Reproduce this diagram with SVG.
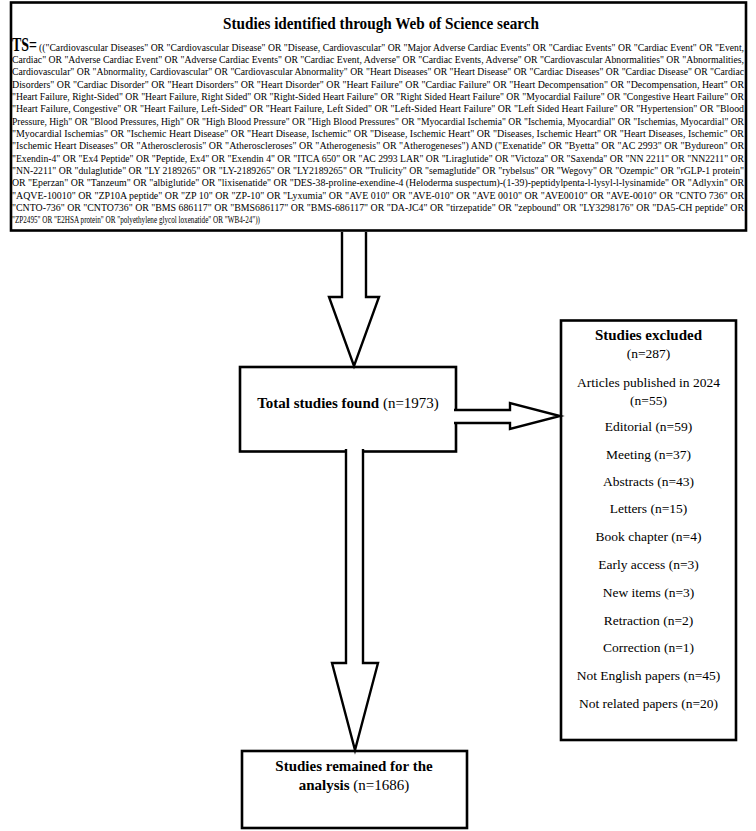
<svg xmlns="http://www.w3.org/2000/svg" width="756" height="831" viewBox="0 0 756 831">
<style>
.box{fill:#fff;stroke:#000;stroke-width:2.6}
.arr{fill:#fff;stroke:#000;stroke-width:2.4;stroke-linejoin:miter}
.t{font-family:"Liberation Serif","Times New Roman",serif;fill:#000}
.b{font-weight:bold}
.q{font-size:9.5px}
.m{font-size:13.5px;text-anchor:middle}
.h{font-size:15px;font-weight:bold}
</style>
<rect x="0" y="0" width="756" height="831" fill="#fff"/>
<g id="node-search">
<rect class="box" x="11" y="2.5" width="735" height="228"/>
<text class="t b" x="223" y="28.5" font-size="16.5" textLength="316" lengthAdjust="spacingAndGlyphs">Studies identified through Web of Science search</text>
<text class="t b" x="12" y="50.5" font-size="18" textLength="25" lengthAdjust="spacingAndGlyphs">TS=</text>
<g class="t q">
<text x="39" y="50.5" textLength="705" lengthAdjust="spacingAndGlyphs">(("Cardiovascular Diseases" OR "Cardiovascular Disease" OR "Disease, Cardiovascular" OR "Major Adverse Cardiac Events" OR "Cardiac Events" OR "Cardiac Event" OR "Event,</text>
<text x="12" y="62.85" textLength="732" lengthAdjust="spacingAndGlyphs">Cardiac" OR "Adverse Cardiac Event" OR "Adverse Cardiac Events" OR "Cardiac Event, Adverse" OR "Cardiac Events, Adverse" OR "Cardiovascular Abnormalities" OR "Abnormalities,</text>
<text x="12" y="75.2" textLength="732" lengthAdjust="spacingAndGlyphs">Cardiovascular" OR "Abnormality, Cardiovascular" OR "Cardiovascular Abnormality" OR "Heart Diseases" OR "Heart Disease" OR "Cardiac Diseases" OR "Cardiac Disease" OR "Cardiac</text>
<text x="12" y="87.55" textLength="732" lengthAdjust="spacingAndGlyphs">Disorders" OR "Cardiac Disorder" OR "Heart Disorders" OR "Heart Disorder" OR "Heart Failure" OR "Cardiac Failure" OR "Heart Decompensation" OR "Decompensation, Heart" OR</text>
<text x="12" y="99.9" textLength="732" lengthAdjust="spacingAndGlyphs">"Heart Failure, Right-Sided" OR "Heart Failure, Right Sided" OR "Right-Sided Heart Failure" OR "Right Sided Heart Failure" OR "Myocardial Failure" OR "Congestive Heart Failure" OR</text>
<text x="12" y="112.25" textLength="732" lengthAdjust="spacingAndGlyphs">"Heart Failure, Congestive" OR "Heart Failure, Left-Sided" OR "Heart Failure, Left Sided" OR "Left-Sided Heart Failure" OR "Left Sided Heart Failure" OR "Hypertension" OR "Blood</text>
<text x="12" y="124.6" textLength="732" lengthAdjust="spacingAndGlyphs">Pressure, High" OR "Blood Pressures, High" OR "High Blood Pressure" OR "High Blood Pressures" OR "Myocardial Ischemia" OR "Ischemia, Myocardial" OR "Ischemias, Myocardial" OR</text>
<text x="12" y="136.95" textLength="732" lengthAdjust="spacingAndGlyphs">"Myocardial Ischemias" OR "Ischemic Heart Disease" OR "Heart Disease, Ischemic" OR "Disease, Ischemic Heart" OR "Diseases, Ischemic Heart" OR "Heart Diseases, Ischemic" OR</text>
<text x="12" y="149.3" textLength="732" lengthAdjust="spacingAndGlyphs">"Ischemic Heart Diseases" OR "Atherosclerosis" OR "Atheroscleroses" OR "Atherogenesis" OR "Atherogeneses") AND ("Exenatide" OR "Byetta" OR "AC 2993" OR "Bydureon" OR</text>
<text x="12" y="161.65" textLength="732" lengthAdjust="spacingAndGlyphs">"Exendin-4" OR "Ex4 Peptide" OR "Peptide, Ex4" OR "Exendin 4" OR "ITCA 650" OR "AC 2993 LAR" OR "Liraglutide" OR "Victoza" OR "Saxenda" OR "NN 2211" OR "NN2211" OR</text>
<text x="12" y="174" textLength="732" lengthAdjust="spacingAndGlyphs">"NN-2211" OR "dulaglutide" OR "LY 2189265" OR "LY-2189265" OR "LY2189265" OR "Trulicity" OR "semaglutide" OR "rybelsus" OR "Wegovy" OR "Ozempic" OR "rGLP-1 protein"</text>
<text x="12" y="186.35" textLength="732" lengthAdjust="spacingAndGlyphs">OR "Eperzan" OR "Tanzeum" OR "albiglutide" OR "lixisenatide" OR "DES-38-proline-exendine-4 (Heloderma suspectum)-(1-39)-peptidylpenta-l-lysyl-l-lysinamide" OR "Adlyxin" OR</text>
<text x="12" y="198.7" textLength="732" lengthAdjust="spacingAndGlyphs">"AQVE-10010" OR "ZP10A peptide" OR "ZP 10" OR "ZP-10" OR "Lyxumia" OR "AVE 010" OR "AVE-010" OR "AVE 0010" OR "AVE0010" OR "AVE-0010" OR "CNTO 736" OR</text>
<text x="12" y="211.05" textLength="732" lengthAdjust="spacingAndGlyphs">"CNTO-736" OR "CNTO736" OR "BMS 686117" OR "BMS686117" OR "BMS-686117" OR "DA-JC4" OR "tirzepatide" OR "zepbound" OR "LY3298176" OR "DA5-CH peptide" OR</text>
<text x="12" y="223.4" textLength="248" lengthAdjust="spacingAndGlyphs">"ZP2495" OR "E2HSA protein" OR "polyethylene glycol loxenatide" OR "WB4-24"))</text>
</g>
</g>
<g id="node-total">
<rect class="box" x="240" y="367" width="216" height="84.5"/>
<text class="t" x="348" y="408" font-size="15" text-anchor="middle"><tspan font-weight="bold">Total studies found</tspan> (n=1973)</text>
</g>
<g id="node-excluded">
<rect class="box" x="561" y="320.5" width="175" height="419.5"/>
<g class="t">
<text class="h" x="648.5" y="339.5" text-anchor="middle">Studies excluded</text>
<text class="m" x="648.5" y="357.5">(n=287)</text>
<text class="m" x="648.5" y="387">Articles published in 2024</text>
<text class="m" x="648.5" y="405">(n=55)</text>
<text class="m" x="648.5" y="431">Editorial (n=59)</text>
<text class="m" x="648.5" y="458.5">Meeting (n=37)</text>
<text class="m" x="648.5" y="486">Abstracts (n=43)</text>
<text class="m" x="648.5" y="513">Letters (n=15)</text>
<text class="m" x="648.5" y="541">Book chapter (n=4)</text>
<text class="m" x="648.5" y="568.5">Early access (n=3)</text>
<text class="m" x="648.5" y="596.5">New items (n=3)</text>
<text class="m" x="648.5" y="624.5">Retraction (n=2)</text>
<text class="m" x="648.5" y="652">Correction (n=1)</text>
<text class="m" x="648.5" y="680">Not English papers (n=45)</text>
<text class="m" x="648.5" y="708">Not related papers (n=20)</text>
</g>
</g>
<g id="node-remained">
<rect class="box" x="242" y="751" width="225" height="77"/>
<text class="t h" x="354" y="771" text-anchor="middle">Studies remained for the</text>
<text class="t" x="354" y="790" font-size="15" text-anchor="middle"><tspan font-weight="bold">analysis</tspan> (n=1686)</text>
</g>
<g id="connectors">
<path class="arr" d="M342,232 L342,297 L329,297 L354,366 L379,297 L366,297 L366,232"/>
<path class="arr" d="M454,410 L510,410 L510,403 L560,416 L510,429 L510,423 L454,423"/>
<path class="arr" d="M346,449 L346,663 L332,663 L355,750 L378,663 L363,663 L363,449"/>
</g>
</svg>
